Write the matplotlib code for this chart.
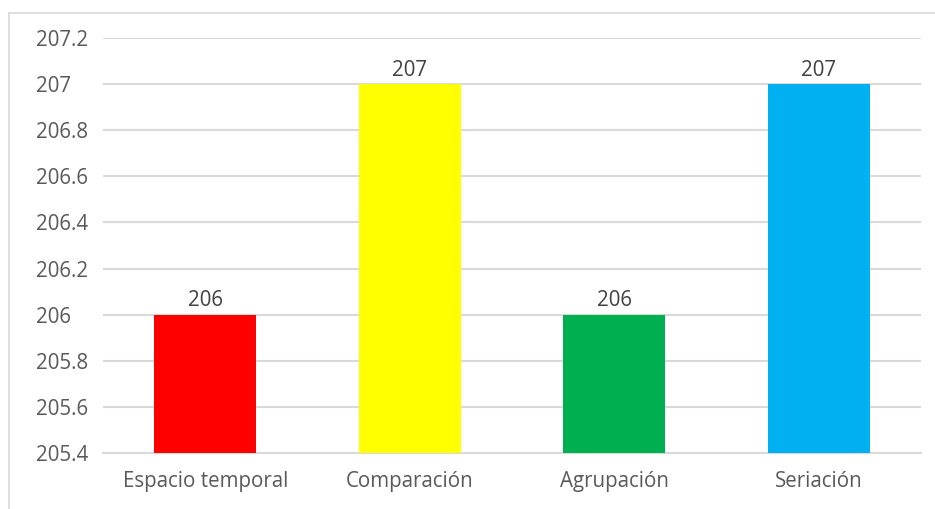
import matplotlib
matplotlib.use("Agg")
import matplotlib.pyplot as plt
from matplotlib.patches import Rectangle

categories = ["Espacio temporal", "Comparación", "Agrupación", "Seriación"]
values = [206, 207, 206, 207]
colors = ["#FF0000", "#FFFF00", "#00B050", "#00B0F0"]
yticks = [205.4, 205.6, 205.8, 206, 206.2, 206.4, 206.6, 206.8, 207, 207.2]
ytick_labels = ["205.4", "205.6", "205.8", "206", "206.2", "206.4", "206.6", "206.8", "207", "207.2"]

plt.rcParams['font.family'] = ['Open Sans', 'DejaVu Sans']

W, H = 935, 509
fig = plt.figure(figsize=(W / 100, H / 100), dpi=100)
fig.patch.set_facecolor("white")

# outer chart border
fig.patches.append(Rectangle((9 / W, -0.1), 1.2, (1 - 13 / H) + 0.1,
                             transform=fig.transFigure, fill=False,
                             edgecolor="#d9d9d9", linewidth=1.2, zorder=0))

ax = fig.add_axes([103 / W, 1 - 453 / H, (921 - 103) / W, (453 - 38) / H])
x = list(range(len(categories)))
bars = ax.bar(x, [v - 205.4 for v in values], bottom=205.4, width=0.5,
              color=colors, zorder=3)

ax.set_xlim(-0.5, len(categories) - 0.5)
ax.set_ylim(205.4, 207.2)
ax.set_yticks(yticks)
ax.set_yticklabels(ytick_labels)
ax.set_xticks(x)
ax.set_xticklabels(categories)

ax.grid(axis="y", color="#d9d9d9", linewidth=1.5, zorder=0)
ax.set_axisbelow(True)
for s in ["top", "right", "left"]:
    ax.spines[s].set_visible(False)
ax.spines["bottom"].set_color("#d9d9d9")
ax.spines["bottom"].set_linewidth(1.5)
ax.tick_params(axis="both", length=0, colors="#595959", labelsize=14.8)
ax.tick_params(axis="x", pad=13)
for lbl in ax.get_yticklabels():
    lbl.set_horizontalalignment("left")
ax.yaxis.set_tick_params(pad=48)

for xi, v in zip(x, values):
    ax.text(xi, v + 0.015, f"{v}", ha="center", va="bottom",
            fontsize=14.8, color="#404040")

fig.savefig("out.png", dpi=100, facecolor="white")
